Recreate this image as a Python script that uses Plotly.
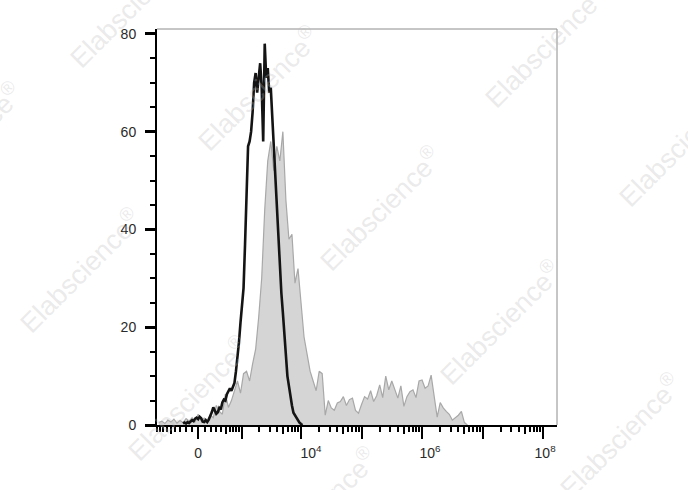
import numpy as np
import plotly.graph_objects as go

# ---------------- data (histogram counts) ----------------
# bins are in logicle display units (decades); regular channel spacing
GRAY_START = 1.65
GRAY_STEP = 0.05
gray_counts = [
    0.5, 0.8, 0.3, 1.0, 0.6, 1.2, 0.4, 0.9, 0.5, 1.3,
    0.8, 1.5, 0.6, 2.2, 0.9, 1.4, 0.8, 2.0, 1.5, 4.0,
    2.8, 2.2, 6.3, 3.6, 5.0, 7.2, 9.0, 6.5, 10.5, 11.0,
    9.0, 12.5, 15.5, 22.0, 30.0, 44.0, 54.0, 58.0, 52.0, 57.0,
    54.0, 60.0, 46.0, 38.0, 39.0, 29.0, 32.0, 25.0, 18.0, 14.5,
    11.0, 9.0, 7.0, 11.0, 10.5, 2.0, 5.0, 3.5, 3.0, 4.5,
    4.8, 5.8, 4.0, 5.2, 5.5, 3.0, 2.4, 4.2, 5.8, 5.3,
    7.0, 4.8, 6.0, 8.2, 5.6, 10.0, 7.2, 9.0, 7.0, 5.5,
    8.0, 3.8, 5.8, 6.8, 7.2, 5.6, 9.0, 9.2, 7.5, 8.0,
    10.2, 6.0, 1.6, 4.6, 3.5, 2.8, 2.2, 1.0, 1.5, 2.0,
    2.8, 0.5, 0.0,
]

BLACK_START = 2.05
BLACK_STEP = 0.025
black_counts = [
    0.3, 0.5, 0.3, 0.6, 0.4, 0.7, 1.0, 0.8, 1.3, 1.5,
    1.2, 1.7, 1.4, 0.7, 0.6, 1.0, 0.6, 1.1, 1.7, 2.6,
    3.6, 2.8, 2.3, 2.6, 3.5, 3.2, 4.6, 5.2, 5.0, 6.3,
    6.8, 7.5, 7.0, 8.0, 8.6, 11.0, 13.5, 17.0, 21.0, 24.0,
    28.0, 37.0, 47.0, 57.0, 58.0, 60.0, 64.0, 70.0, 72.0, 68.0,
    71.0, 74.0, 69.0, 58.0, 78.0, 71.0, 73.0, 68.0, 69.0, 63.0,
    57.0, 49.0, 44.0, 38.0, 32.0, 27.0, 23.0, 18.0, 13.0, 10.0,
    8.0, 5.5, 4.0, 2.5, 2.0, 1.4, 0.8, 0.5, 0.2, 0.0,
]

# axis tick values (fluorescence intensity)
major_ticks = [0, 1e3, 1e4, 1e5, 1e6, 1e7, 1e8]
medium_ticks = [-500, 500, 5e3, 5e4, 5e5, 5e6, 5e7]
minor_ticks = ([-k * 100 for k in (1, 2, 3, 4, 6, 7, 8, 9)] +
               [k * 100 for k in (1, 2, 3, 4, 6, 7, 8, 9)] +
               [k * 10 ** d for d in range(3, 8) for k in (2, 3, 4, 6, 7, 8, 9)])
label_values = [0, 1e4, 1e6, 1e8]
label_texts = ["0", "10<sup>4</sup>", "10<sup>6</sup>", "10<sup>8</sup>"]
label_nudge_px = [0, 10, 8, 2]   # labels sit slightly right of their ticks
y_major = [0, 20, 40, 60, 80]

WATERMARK = "Elabscience<sup>®</sup>"

# ---------------- logicle-like display transform ----------------
W = 200.0
PX_PER_DECADE = 60.5
def disp(v):
    v = np.asarray(v, dtype=float)
    return np.arcsinh(v / (2 * W)) / np.log(10) + np.log10(W)

gray_x = GRAY_START + GRAY_STEP * np.arange(len(gray_counts))
black_x = BLACK_START + BLACK_STEP * np.arange(len(black_counts))

fig = go.Figure()
fig.add_trace(go.Scatter(
    x=gray_x, y=gray_counts, mode="lines", fill="tozeroy",
    fillcolor="#d5d5d5", line=dict(color="#a8a8a8", width=1.2),
    hoverinfo="skip", showlegend=False))
fig.add_trace(go.Scatter(
    x=black_x, y=black_counts, mode="lines",
    line=dict(color="#141414", width=2.6),
    hoverinfo="skip", showlegend=False))
# invisible traces carrying the overlay axes (medium ticks, labels)
fig.add_trace(go.Scatter(x=gray_x, y=gray_counts, mode="lines", xaxis="x2",
                         opacity=0, hoverinfo="skip", showlegend=False))
fig.add_trace(go.Scatter(x=gray_x, y=gray_counts, mode="lines", xaxis="x3",
                         opacity=0, hoverinfo="skip", showlegend=False))

XR = [1.62, 8.23]
font = dict(family="Liberation Sans, Arial, sans-serif", size=14, color="#2a2a2a")
label_pos = list(disp(label_values) + np.array(label_nudge_px) / PX_PER_DECADE)

fig.update_layout(
    width=688, height=490,
    margin=dict(l=157, r=131, t=29, b=65),
    paper_bgcolor="white", plot_bgcolor="white",
    showlegend=False,
    font=font,
    xaxis=dict(
        range=XR, showgrid=False, zeroline=False,
        showline=True, linecolor="black", linewidth=2,
        tickmode="array", tickvals=list(disp(major_ticks)),
        showticklabels=False,
        ticks="outside", ticklen=12, tickwidth=2, tickcolor="black",
        minor=dict(tickmode="array", tickvals=list(disp(minor_ticks)),
                   ticks="outside", ticklen=5, tickwidth=1.5, tickcolor="black",
                   showgrid=False),
    ),
    xaxis2=dict(
        range=XR, overlaying="x", anchor="y", side="bottom",
        showgrid=False, zeroline=False, showline=False,
        tickmode="array", tickvals=list(disp(medium_ticks)),
        showticklabels=False,
        ticks="outside", ticklen=8, tickwidth=2, tickcolor="black",
    ),
    xaxis3=dict(
        range=XR, overlaying="x", anchor="y", side="bottom",
        showgrid=False, zeroline=False, showline=False,
        tickmode="array", tickvals=label_pos, ticktext=label_texts,
        ticks="outside", ticklen=12, tickwidth=1, tickcolor="rgba(0,0,0,0)",
        ticklabelstandoff=3, tickfont=font,
    ),
    yaxis=dict(
        range=[0, 81], showgrid=False, zeroline=False,
        showline=True, linecolor="black", linewidth=2,
        tickmode="array", tickvals=y_major,
        ticks="outside", ticklen=10, tickwidth=2.5, tickcolor="black",
        ticklabelstandoff=6, tickfont=font,
        minor=dict(dtick=5, tick0=0, ticks="outside", ticklen=5, tickwidth=1.5,
                   tickcolor="black", showgrid=False),
    ),
)

# thin grey frame on top and right
fig.add_shape(type="line", xref="paper", yref="paper", x0=0, x1=1, y0=1, y1=1,
              line=dict(color="#8c8c8c", width=1))
fig.add_shape(type="line", xref="paper", yref="paper", x0=1, x1=1, y0=0, y1=1,
              line=dict(color="#8c8c8c", width=1))

# watermark (pixel centres converted to paper coords)
wm_centres = [(130, 5), (258, 88), (545, 45), (-39, 144), (380, 208), (679, 144),
              (80, 270), (500, 322), (188, 398), (316, 509), (620, 435)]
for px, py in wm_centres:
    fig.add_annotation(
        x=(px - 157) / 400, y=(425 - py) / 396, xref="paper", yref="paper",
        text=WATERMARK, showarrow=False, textangle=-45,
        font=dict(family="Liberation Sans, Arial, sans-serif", size=27,
                  color="rgba(185,185,185,0.30)"),
        xanchor="center", yanchor="middle")

fig.write_html("out.html", config={"displayModeBar": False},
               post_script="document.body.style.margin='0px';document.body.style.overflow='hidden';")
